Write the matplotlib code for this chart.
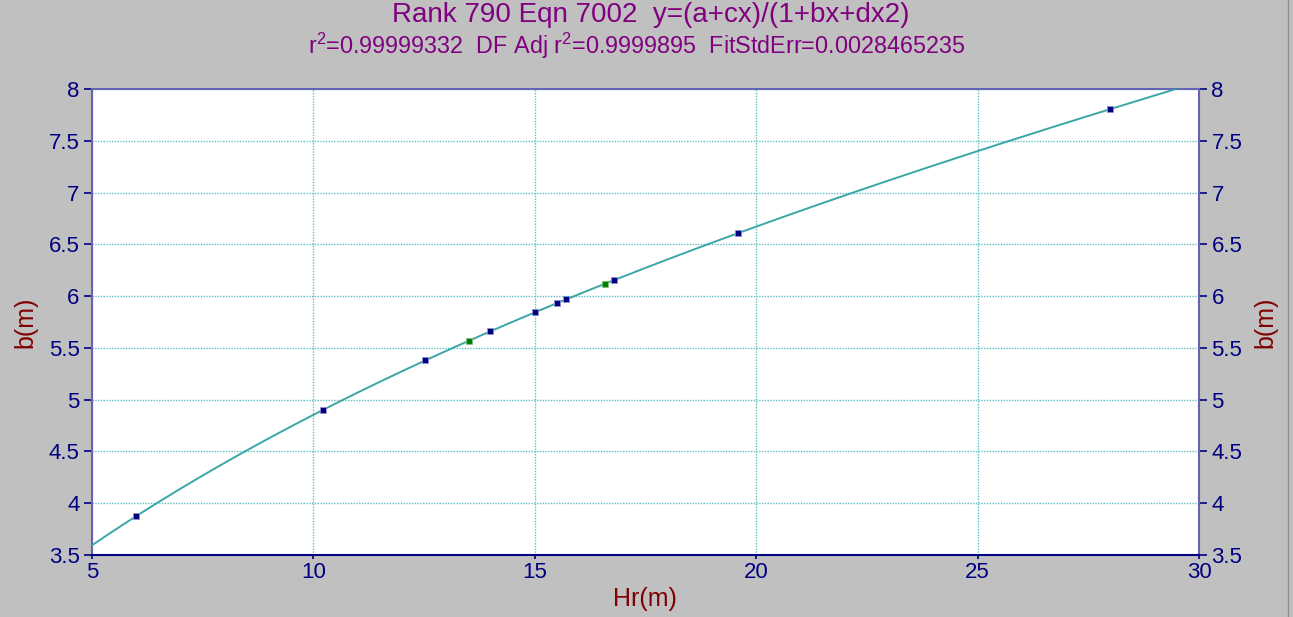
import numpy as np
import matplotlib
matplotlib.use('Agg')
import matplotlib.pyplot as plt

# Data
HR_BLUE = [6.0, 10.22, 12.52, 13.99, 15.0, 15.5, 15.7, 16.79, 19.59, 27.99]
B_BLUE = [3.876, 4.90, 5.38, 5.66, 5.846, 5.93, 5.97, 6.154, 6.608, 7.805]
HR_GREEN = [13.51, 16.59]
B_GREEN = [5.566, 6.116]

TITLE1 = 'Rank 790 Eqn 7002  y=(a+cx)/(1+bx+dx2)'
TITLE2 = 'r$^2$=0.99999332  DF Adj r$^2$=0.9999895  FitStdErr=0.0028465235'
XLABEL = 'Hr(m)'
YLABEL = 'b(m)'
XTICKS = [5, 10, 15, 20, 25, 30]
YTICKS = [3.5, 4, 4.5, 5, 5.5, 6, 6.5, 7, 7.5, 8]

NAVY = '#000080'
SPINE = '#6464b4'
GRID = '#5ec2c2'
CURVE = '#3aa6a6'
DARKRED = '#800000'

plt.rcParams['font.family'] = ['Liberation Sans', 'DejaVu Sans']
plt.rcParams['mathtext.fontset'] = 'custom'
plt.rcParams['mathtext.rm'] = 'Liberation Sans'


def fit_rational(x, y):
    # linearised fit of y=(a+cx)/(1+bx+dx2)
    x = np.asarray(x)
    y = np.asarray(y)
    A = np.column_stack([np.ones_like(x), x, -x * y, -x * x * y])
    a, c, b, d = np.linalg.lstsq(A, y, rcond=None)[0]
    return lambda t: (a + c * t) / (1 + b * t + d * t * t)


allx = HR_BLUE + HR_GREEN
ally = B_BLUE + B_GREEN
f = fit_rational(allx, ally)

W, H = 1293, 617
fig = plt.figure(figsize=(W / 100, H / 100), dpi=100, facecolor='#c0c0c0')
ax = fig.add_axes([92 / W, 62 / H, 1107 / W, 466 / H])
ax.set_facecolor('white')

xs = np.linspace(5, 30, 600)
ax.plot(xs, f(xs), color=CURVE, lw=1.4, zorder=3)
ax.plot(HR_BLUE, B_BLUE, 's', ms=3.8, color=NAVY, mec='#9090d0', mew=0.6, zorder=4)
ax.plot(HR_GREEN, B_GREEN, 's', ms=3.8, color='#008000', mec='#80c080', mew=0.6, zorder=4)

ax.set_xlim(5, 30)
ax.set_ylim(3.5, 8)
ax.set_xticks(XTICKS)
ax.set_yticks(YTICKS)
ax.set_xticklabels([str(t) for t in XTICKS])
ax.set_yticklabels([('%g' % t) for t in YTICKS])
ax.grid(True, color=GRID, ls=(0, (1, 1)), lw=1.0)

ax.tick_params(axis='both', colors=NAVY, labelsize=16, width=1.2, direction='out')
ax.tick_params(axis='y', right=True, labelright=True, length=6, pad=3)
ax.tick_params(axis='x', length=3, pad=2)
for s in ['left', 'right', 'top']:
    ax.spines[s].set_color(SPINE)
    ax.spines[s].set_linewidth(1.5)
ax.spines['bottom'].set_color(NAVY)
ax.spines['bottom'].set_linewidth(1.5)

# axis titles placed in figure pixels
fig.text(645 / W, 1 - 599 / H, XLABEL, color=DARKRED, fontsize=18, ha='center', va='center')
fig.text(25 / W, 1 - 322 / H, YLABEL, color=DARKRED, fontsize=18, ha='center', va='center', rotation=90)
fig.text(1265 / W, 1 - 322 / H, YLABEL, color=DARKRED, fontsize=18, ha='center', va='center', rotation=90)

fig.text(651 / W, 1 - 15 / H, TITLE1, color='#800080', fontsize=20, ha='center', va='center')
fig.text(637 / W, 1 - 46 / H, TITLE2, color='#800080', fontsize=16.8, ha='center', va='center')

# window border line
fig.add_artist(plt.Line2D([1288 / W, 1288 / W], [0, 1], color='#909090', lw=1, transform=fig.transFigure))

fig.savefig('out.png', dpi=100, facecolor=fig.get_facecolor())
